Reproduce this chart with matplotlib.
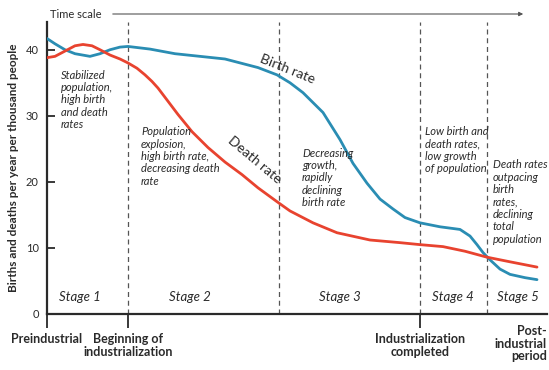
import matplotlib
matplotlib.use("Agg")
import matplotlib.pyplot as plt

# ---- data (time in arbitrary units 0..100, rates per 1000 people) ----
birth_x = [0, 1.6, 3.6, 5.6, 8.6, 10.6, 12.6, 14.6, 16.2, 20.6, 25.6, 30.6, 35.6,
           42.2, 46.0, 48.6, 51.2, 55.2, 58.6, 61.2, 64.0, 66.6, 69.2, 71.6, 74.6,
           78.6, 82.6, 84.6, 86.0, 87.2, 88.6, 90.6, 92.6, 95.6, 98.0]
birth_y = [41.7, 40.9, 40.0, 39.4, 39.0, 39.4, 40.0, 40.4, 40.5, 40.1, 39.4, 39.0, 38.6,
           37.3, 36.2, 35.0, 33.5, 30.5, 26.4, 22.8, 19.8, 17.4, 15.9, 14.6, 13.8,
           13.2, 12.8, 11.8, 10.5, 9.3, 8.2, 6.8, 6.0, 5.5, 5.2]

death_x = [0, 1.6, 3.6, 5.6, 7.2, 9.0, 10.6, 12.6, 14.6, 16.2, 18.0, 19.6, 21.0, 22.2,
           24.2, 26.2, 29.0, 32.2, 35.6, 39.0, 42.2, 46.0, 48.6, 53.2, 58.0, 64.6,
           70.6, 74.6, 79.2, 83.6, 88.0, 92.6, 98.0]
death_y = [38.8, 39.0, 39.8, 40.6, 40.8, 40.6, 40.0, 39.2, 38.6, 38.0, 37.2, 36.2, 35.2,
           34.2, 32.2, 30.2, 27.6, 25.2, 23.0, 21.1, 19.1, 17.0, 15.6, 13.8, 12.3, 11.2,
           10.8, 10.5, 10.2, 9.5, 8.6, 7.9, 7.1]

stage_bounds = [16.2, 46.4, 74.6, 88.0]
stage_names = ["Stage 1", "Stage 2", "Stage 3", "Stage 4", "Stage 5"]
stage_label_x = [6.6, 28.6, 58.6, 81.2, 94.2]
y_ticks = [0, 10, 20, 30, 40]

tick_pos = [0, 16.2, 74.6]
tick_labels = ["Preindustrial", "Beginning of\nindustrialization", "Industrialization\ncompleted"]

notes = [
    (2.8, 37.0, "Stabilized\npopulation,\nhigh birth\nand death\nrates"),
    (18.8, 28.4, "Population\nexplosion,\nhigh birth rate,\ndecreasing death\nrate"),
    (51.0, 25.2, "Decreasing\ngrowth,\nrapidly\ndeclining\nbirth rate"),
    (75.6, 28.4, "Low birth and\ndeath rates,\nlow growth\nof population"),
    (89.2, 23.4, "Death rates\noutpacing\nbirth\nrates,\ndeclining\ntotal\npopulation"),
]

BLUE = "#2a8db3"
RED = "#e8432f"
TXT = "#2a2a2a"
FONT = ["Lato", "DejaVu Sans"]
plt.rcParams["font.family"] = FONT

fig = plt.figure(figsize=(5.49, 3.70), dpi=100)
ax = fig.add_axes([47/549, 56/370, 500/549, 292/370])
ax.set_xlim(0, 100)
ax.set_ylim(0, 44.2)

for s in ["top", "right"]:
    ax.spines[s].set_visible(False)
for s in ["left", "bottom"]:
    ax.spines[s].set_linewidth(1.6)
    ax.spines[s].set_color(TXT)

for b in stage_bounds:
    ax.axvline(b, color="#555555", lw=0.9, ls=(0, (4, 3)), zorder=1)

ax.plot(birth_x, birth_y, color=BLUE, lw=2.0, zorder=3, solid_capstyle="round",
        solid_joinstyle="round")
ax.plot(death_x, death_y, color=RED, lw=2.0, zorder=3, solid_capstyle="round",
        solid_joinstyle="round")

ax.set_yticks(y_ticks)
ax.set_yticklabels([str(v) for v in y_ticks], fontsize=8, color=TXT)
ax.tick_params(axis="y", direction="in", length=6, width=1.3, pad=6, colors=TXT)
ax.set_xticks(tick_pos)
ax.set_xticklabels(tick_labels, fontsize=9, fontweight="bold", color=TXT, linespacing=1.05)
ax.tick_params(axis="x", direction="out", length=10, width=1.3, pad=4, colors=TXT)

ax.set_ylabel("Births and deaths per year per thousand people", fontsize=8.5,
              fontweight="bold", color=TXT, labelpad=5)

ax.text(100, -1.7, "Post-\nindustrial\nperiod", ha="right", va="top", fontsize=9,
        fontweight="bold", color=TXT, linespacing=1.05)

for name, x in zip(stage_names, stage_label_x):
    ax.text(x, 1.6, name, ha="center", va="bottom", fontsize=9.5, style="italic", color=TXT)

for x, y, t in notes:
    ax.text(x, y, t, ha="left", va="top", fontsize=8, style="italic", color=TXT,
            linespacing=1.15)

ax.text(48.0, 37.0, "Birth rate", rotation=-22, ha="center", va="center",
        fontsize=10, color=TXT, rotation_mode="anchor")
ax.text(41.5, 23.3, "Death rate", rotation=-40, ha="center", va="center",
        fontsize=10, color=TXT, rotation_mode="anchor")

# time scale arrow
fig.text(50/549, 1 - 14/370, "Time scale", fontsize=8, color=TXT, va="center", ha="left")
fig.add_artist(matplotlib.patches.FancyArrowPatch(
    (110/549, 1 - 14/370), (526/549, 1 - 14/370), transform=fig.transFigure,
    arrowstyle="-|>", mutation_scale=6, color="#555555", lw=0.8))

fig.savefig("out.png", dpi=100, facecolor="white")
